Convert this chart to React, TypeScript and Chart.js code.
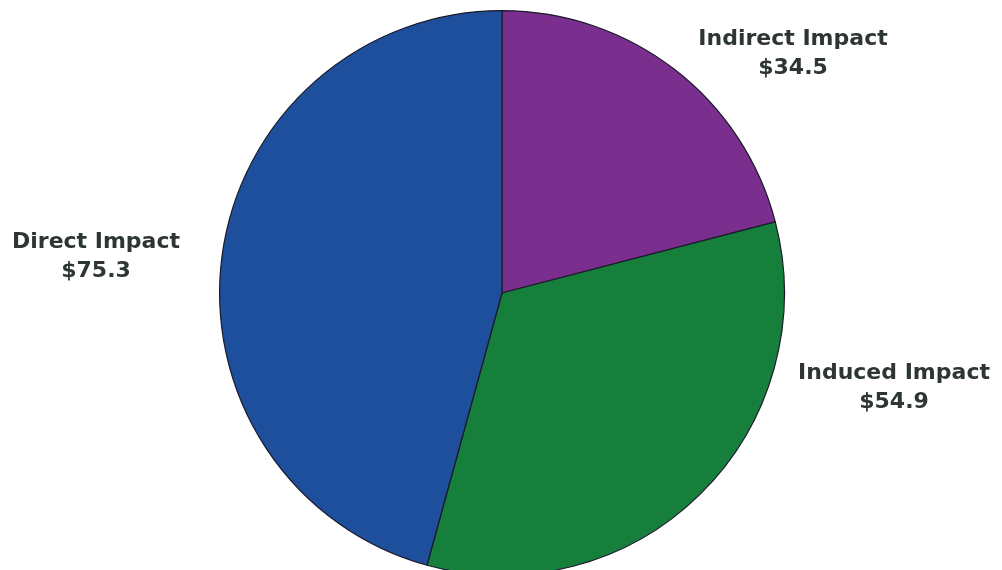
import React, { useEffect, useRef } from "react";
import { Chart, registerables } from "chart.js";

Chart.register(...registerables);

const categories = ["Indirect Impact", "Induced Impact", "Direct Impact"];
const values = [34.5, 54.9, 75.3];
const valueLabels = ["$34.5", "$54.9", "$75.3"];
const colors = ["#7a2f8e", "#157f3b", "#1e4f9c"];
// label center offsets relative to pie center (px)
const labelOffsets: [number, number][] = [
  [291, -240],
  [392, 94],
  [-406, -37],
];

const labelPlugin = {
  id: "outerLabels",
  afterDraw(chart: any) {
    const ctx = chart.ctx;
    const meta = chart.getDatasetMeta(0);
    ctx.save();
    ctx.font = "bold 22px 'DejaVu Sans', sans-serif";
    ctx.fillStyle = "#2e3535";
    ctx.textAlign = "center";
    ctx.textBaseline = "middle";
    meta.data.forEach((arc: any, i: number) => {
      const cx = arc.x + labelOffsets[i][0];
      const cy = arc.y + labelOffsets[i][1];
      ctx.fillText(categories[i], cx, cy - 14);
      ctx.fillText(valueLabels[i], cx, cy + 15);
    });
    ctx.restore();
  },
};

export default function App() {
  const ref = useRef<HTMLCanvasElement>(null);
  useEffect(() => {
    if (!ref.current) return;
    const chart = new Chart(ref.current, {
      type: "pie",
      data: {
        labels: categories,
        datasets: [
          {
            data: values,
            backgroundColor: colors,
            borderColor: "#1a1a2a",
            borderWidth: 1.2,
          },
        ],
      },
      options: {
        animation: false,
        responsive: false,
        layout: { padding: { top: 10, bottom: 0, left: 2, right: 0 } },
        plugins: { legend: { display: false }, tooltip: { enabled: false } },
      },
      plugins: [labelPlugin],
    });
    return () => chart.destroy();
  }, []);
  return (
    <div style={{ position: "fixed", left: 0, top: 0, width: 1002, height: 570, overflow: "hidden", background: "#fff" }}>
      <canvas ref={ref} width={1002} height={576} style={{ display: "block" }} />
    </div>
  );
}
